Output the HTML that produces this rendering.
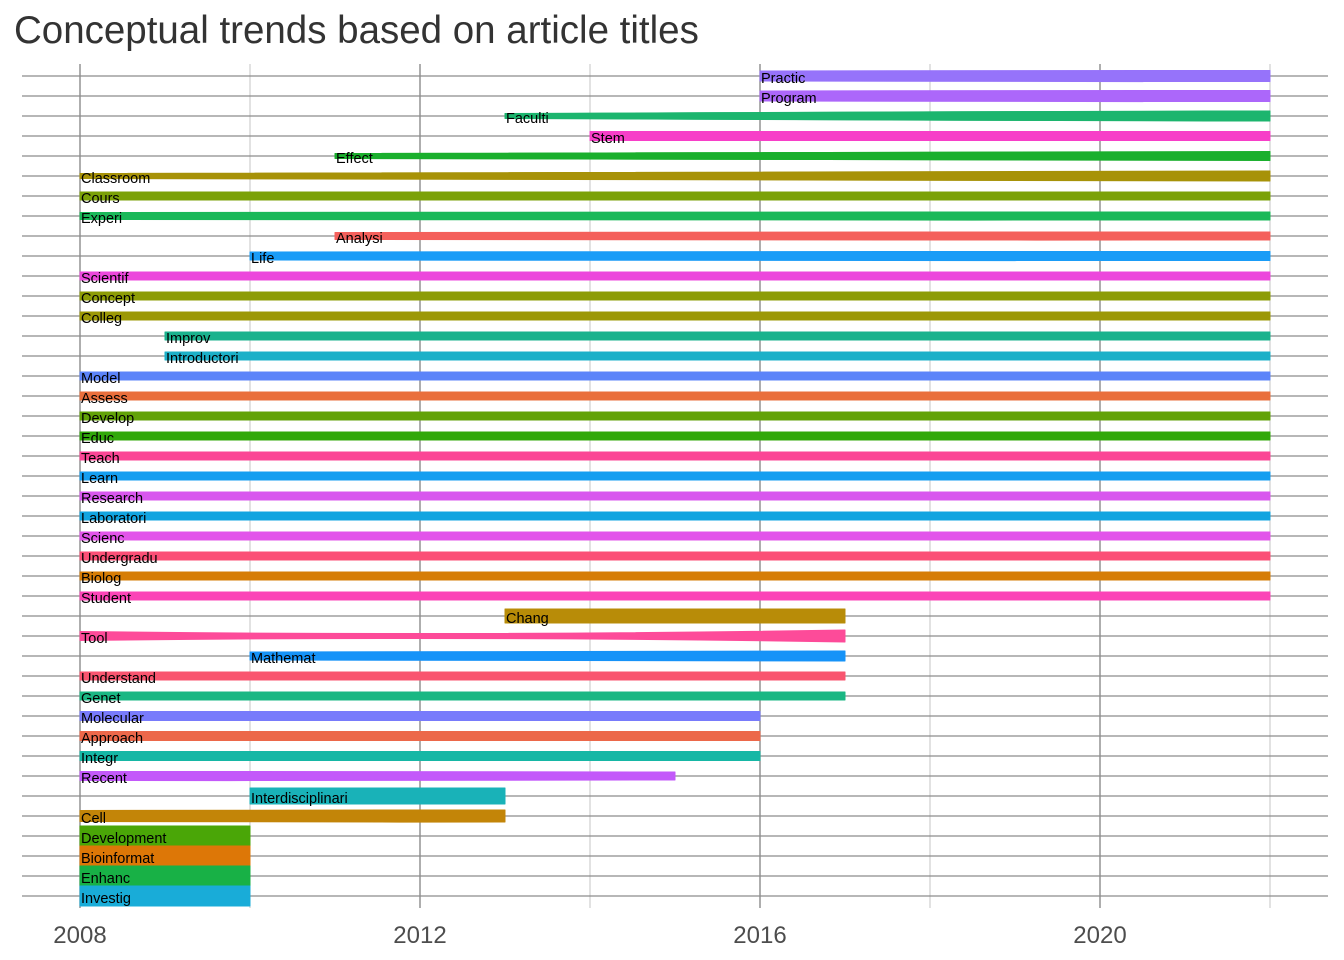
<!DOCTYPE html>
<html><head><meta charset="utf-8"><style>
body{margin:0;background:#fff;}
svg{display:block;font-family:"Liberation Sans",sans-serif;}
</style></head><body>
<svg id="chart" width="1344" height="960" viewBox="0 0 1344 960">
<text x="14" y="43" font-size="38.5" fill="#333">Conceptual trends based on article titles</text>
<g id="grid"></g><g id="marks"></g><g id="labels"></g><g id="xticks"></g>
</svg>
<script>
const terms=["Practic","Program","Faculti","Stem","Effect","Classroom","Cours","Experi","Analysi","Life","Scientif","Concept","Colleg","Improv","Introductori","Model","Assess","Develop","Educ","Teach","Learn","Research","Laboratori","Scienc","Undergradu","Biolog","Student","Chang","Tool","Mathemat","Understand","Genet","Molecular","Approach","Integr","Recent","Interdisciplinari","Cell","Development","Bioinformat","Enhanc","Investig"];
const startYear=[2016,2016,2013,2014,2011,2008,2008,2008,2011,2010,2008,2008,2008,2009,2009,2008,2008,2008,2008,2008,2008,2008,2008,2008,2008,2008,2008,2013,2008,2010,2008,2008,2008,2008,2008,2008,2010,2008,2008,2008,2008,2008];
const endYear=[2022,2022,2022,2022,2022,2022,2022,2022,2022,2022,2022,2022,2022,2022,2022,2022,2022,2022,2022,2022,2022,2022,2022,2022,2022,2022,2022,2017,2017,2017,2017,2017,2016,2016,2016,2015,2013,2013,2010,2010,2010,2010];
const widthStart=[10,10,5,9,5,5,8,7,7,8,8,8,8,8,8,8,8,8,8,8,8,8,8,8,8,8,8,14,9,8,8,8,9,9,9,9,16,11,20,20,20,20];
const widthMid=[11,11,9,9,8,8,8,8,8,9,8,8,8,8,8,8,8,8,8,8,8,8,8,8,8,8,8,14,5,9,8,8,9,9,9,9,16,12,20,20,20,20];
const widthEnd=[11,11,10,9,9,10,8,8,8,9,8,8,8,8,8,8,8,8,8,8,8,8,8,8,8,8,8,14,12,10,8,8,9,9,9,8,16,12,20,20,20,20];
const colors=["#9673fa","#ac67fa","#1cb56e","#f73fc8","#1aaf2d","#a79208","#7ba108","#1ab859","#f4605b","#1a9cf7","#ec47dc","#8d9c06","#9c9806","#1ab28d","#1cb0c8","#5c84f9","#e96f3c","#62a208","#31a80a","#fb4695","#159ef0","#d857ee","#12a4e0","#e254ea","#fb4f76","#d67d06","#fb44b7","#b88c08","#fd4b99","#1693f8","#f9556f","#1ab783","#787bfb","#ec684a","#16b7a5","#c359fa","#19b2b8","#c38508","#4aa607","#dd7707","#18b146","#19acd8"];
const xTicks=[2008,2012,2016,2020];
const ns="http://www.w3.org/2000/svg";
const x=y=>80+(y-2008)*85;
const rowY=i=>76+i*20;
function mk(tag,attrs,parent){const e=document.createElementNS(ns,tag);for(const k in attrs)e.setAttribute(k,attrs[k]);parent.appendChild(e);return e;}
const grid=document.getElementById('grid'),marks=document.getElementById('marks'),labels=document.getElementById('labels'),xt=document.getElementById('xticks');
for(let yr=2008;yr<=2022;yr+=2){const major=(yr-2008)%4===0;
const l=mk('line',{x1:x(yr),x2:x(yr),y1:64,y2:908,stroke:major?'#8c8c8c':'#c4c4c4','stroke-width':major?1.4:1},grid);

}
terms.forEach((t,i)=>{const l=mk('line',{x1:22,x2:1328,y1:rowY(i),y2:rowY(i),stroke:'#8c8c8c','stroke-width':1.3},grid);

});
terms.forEach((t,i)=>{const y=rowY(i),x0=x(startYear[i]),x1=x(endYear[i]),xm=(x0+x1)/2;
const a=widthStart[i]/2,m=widthMid[i]/2,b=widthEnd[i]/2;
const d=`M${x0},${y-a} Q${xm},${y-m*2+ (a+b)/2} ${x1},${y-b} L${x1},${y+b} Q${xm},${y+m*2-(a+b)/2} ${x0},${y+a} Z`;
const p=mk('path',{d:d,fill:colors[i],stroke:colors[i],'stroke-width':1,'stroke-linejoin':'round'},marks);


const tx=mk('text',{x:x0+1,y:y+7,'font-size':14.5,fill:'#000'},labels);tx.textContent=t;

});
xTicks.forEach(v=>{const tx=mk('text',{x:x(v),y:943,'font-size':24,fill:'#4d4d4d','text-anchor':'middle'},xt);tx.textContent=v;

});
</script>
</body></html>
